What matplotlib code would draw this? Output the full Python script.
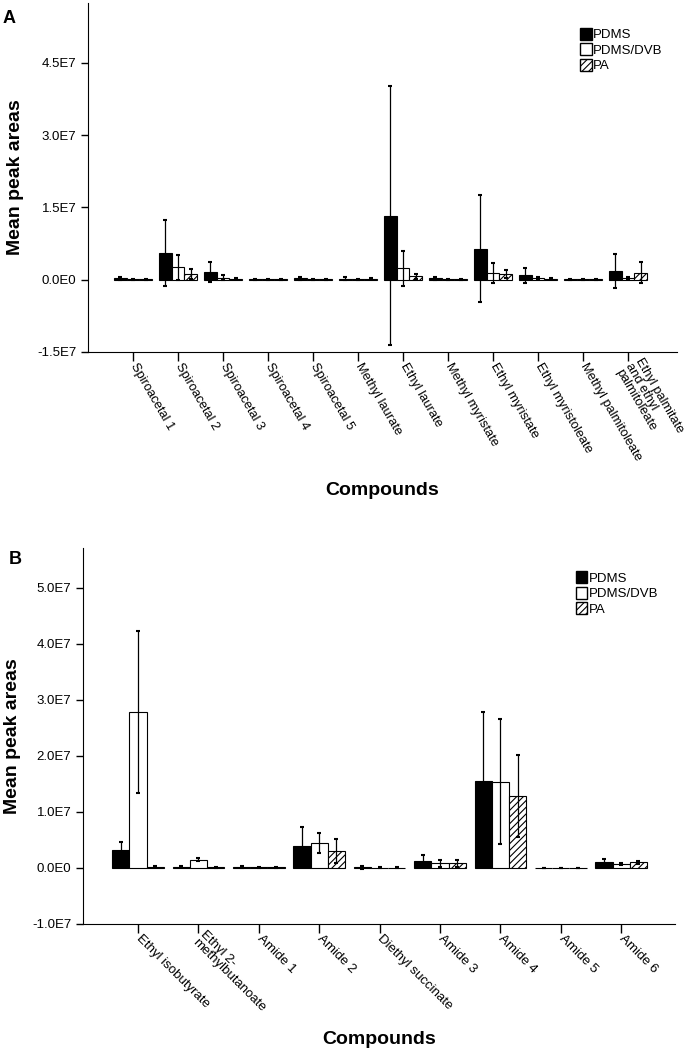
import numpy as np
import matplotlib.pyplot as plt
from matplotlib.patches import Patch

plt.rcParams['font.family'] = ['Liberation Sans', 'DejaVu Sans']
plt.rcParams['hatch.linewidth'] = 0.8

# Panel A data
comp_a = ['Spiroacetal 1', 'Spiroacetal 2', 'Spiroacetal 3', 'Spiroacetal 4',
          'Spiroacetal 5', 'Methyl laurate', 'Ethyl laurate', 'Methyl myristate',
          'Ethyl myristate', 'Ethyl myristoleate', 'Methyl palmitoleate',
          'Ethyl palmitate\nand ethyl\npalmitoleate']
pdms_a = [0.3e6, 5.6e6, 1.6e6, 0.05e6, 0.3e6, 0.25e6, 13.3e6, 0.3e6, 6.4e6, 0.9e6, 0.05e6, 1.8e6]
pdms_a_err = [0.3e6, 6.9e6, 2.0e6, 0.05e6, 0.3e6, 0.3e6, 26.9e6, 0.3e6, 11.1e6, 1.5e6, 0.05e6, 3.6e6]
dvb_a = [0.05e6, 2.6e6, 0.4e6, 0.05e6, 0.05e6, 0.05e6, 2.4e6, 0.05e6, 1.45e6, 0.35e6, 0.05e6, 0.4e6]
dvb_a_err = [0.05e6, 2.6e6, 0.5e6, 0.05e6, 0.05e6, 0.05e6, 3.6e6, 0.05e6, 2.05e6, 0.2e6, 0.05e6, 0.2e6]
pa_a = [0.05e6, 1.2e6, 0.2e6, 0.05e6, 0.05e6, 0.25e6, 0.7e6, 0.05e6, 1.2e6, 0.2e6, 0.05e6, 1.45e6]
pa_a_err = [0.05e6, 1.1e6, 0.1e6, 0.05e6, 0.05e6, 0.1e6, 0.5e6, 0.05e6, 0.9e6, 0.1e6, 0.05e6, 2.2e6]
yticks_a = [-1.5e7, 0, 1.5e7, 3.0e7, 4.5e7]
ylabels_a = ['-1.5E7', '0.0E0', '1.5E7', '3.0E7', '4.5E7']

# Panel B data
comp_b = ['Ethyl isobutyrate', 'Ethyl 2-\nmethylbutanoate', 'Amide 1', 'Amide 2',
          'Diethyl succinate', 'Amide 3', 'Amide 4', 'Amide 5', 'Amide 6']
pdms_b = [3.2e6, 0.2e6, 0.2e6, 3.9e6, 0.1e6, 1.3e6, 15.6e6, 0.03e6, 1.0e6]
pdms_b_err = [1.5e6, 0.1e6, 0.2e6, 3.4e6, 0.3e6, 1.05e6, 12.2e6, 0.03e6, 0.6e6]
dvb_b = [27.8e6, 1.47e6, 0.1e6, 4.4e6, 0.05e6, 0.8e6, 15.4e6, 0.03e6, 0.75e6]
dvb_b_err = [14.5e6, 0.3e6, 0.05e6, 1.8e6, 0.05e6, 0.65e6, 11.1e6, 0.03e6, 0.2e6]
pa_b = [0.2e6, 0.1e6, 0.1e6, 3.05e6, 0.05e6, 0.8e6, 12.8e6, 0.03e6, 1.0e6]
pa_b_err = [0.1e6, 0.05e6, 0.05e6, 2.2e6, 0.05e6, 0.6e6, 7.3e6, 0.03e6, 0.3e6]
yticks_b = [-1.0e7, 0, 1.0e7, 2.0e7, 3.0e7, 4.0e7, 5.0e7]
ylabels_b = ['-1.0E7', '0.0E0', '1.0E7', '2.0E7', '3.0E7', '4.0E7', '5.0E7']

series_names = ['PDMS', 'PDMS/DVB', 'PA']
W = 0.285


def draw(ax, comps, series, errs, yticks, ylabels, ylim, xlim, rot, leg_xy, lab_fs):
    x = np.arange(len(comps))
    styles = [dict(color='black'), dict(color='white'), dict(color='white', hatch='/////')]
    for k, (vals, err, st) in enumerate(zip(series, errs, styles)):
        ax.bar(x + (k - 1) * W, vals, W, edgecolor='black', linewidth=0.8, **st)
        ax.errorbar(x + (k - 1) * W, vals, yerr=err, fmt='none', ecolor='black',
                    elinewidth=0.9, capsize=1.5, capthick=1.5)
    ax.set_xlim(*xlim)
    ax.set_ylim(*ylim)
    ax.set_yticks(yticks)
    ax.set_yticklabels(ylabels, fontsize=9.5)
    ax.set_xticks(x)
    ax.set_xticklabels(comps, rotation=rot, ha='left', va='center',
                       rotation_mode='anchor', fontsize=lab_fs, linespacing=0.95)
    ax.tick_params(axis='x', length=6.5, width=1, pad=2.5)
    ax.tick_params(axis='y', length=5, width=1)
    for s in ['top', 'right']:
        ax.spines[s].set_visible(False)
    ax.set_ylabel('Mean peak areas', fontsize=14, fontweight='bold')
    ax.set_xlabel('Compounds', fontsize=14, fontweight='bold')
    handles = [Patch(facecolor='black', edgecolor='black'),
               Patch(facecolor='white', edgecolor='black'),
               Patch(facecolor='white', edgecolor='black', hatch='/////')]
    ax.legend(handles, series_names, loc='upper right', bbox_to_anchor=leg_xy,
              frameon=False, fontsize=9.5, handlelength=0.85, handleheight=1.05,
              handletextpad=0.1, labelspacing=0.15, borderaxespad=0, borderpad=0)


fig = plt.figure(figsize=(6.85, 10.52), dpi=100)
ax1 = fig.add_axes([0.1285, 0.6654, 0.860, 0.332])
ax2 = fig.add_axes([0.1212, 0.1217, 0.864, 0.3574])

draw(ax1, comp_a, [pdms_a, dvb_a, pa_a], [pdms_a_err, dvb_a_err, pa_a_err],
     yticks_a, ylabels_a, (-1.5e7, 5.75e7), (-1.0, 12.09), -60, (0.975, 0.929), 9.3)
draw(ax2, comp_b, [pdms_b, dvb_b, pa_b], [pdms_b_err, dvb_b_err, pa_b_err],
     yticks_b, ylabels_b, (-1.0e7, 5.71e7), (-0.91, 8.89), -45, (0.972, 0.939), 9.5)

ax1.yaxis.set_label_coords(-0.108, 0.5)
ax1.xaxis.set_label_coords(0.5, -0.371)
ax2.yaxis.set_label_coords(-0.105, 0.5)
ax2.xaxis.set_label_coords(0.5, -0.285)

fig.text(0.003, 0.982, 'A', fontsize=13, fontweight='bold', va='center')
fig.text(0.013, 0.468, 'B', fontsize=13, fontweight='bold', va='center')

fig.savefig('out.png', dpi=100)
